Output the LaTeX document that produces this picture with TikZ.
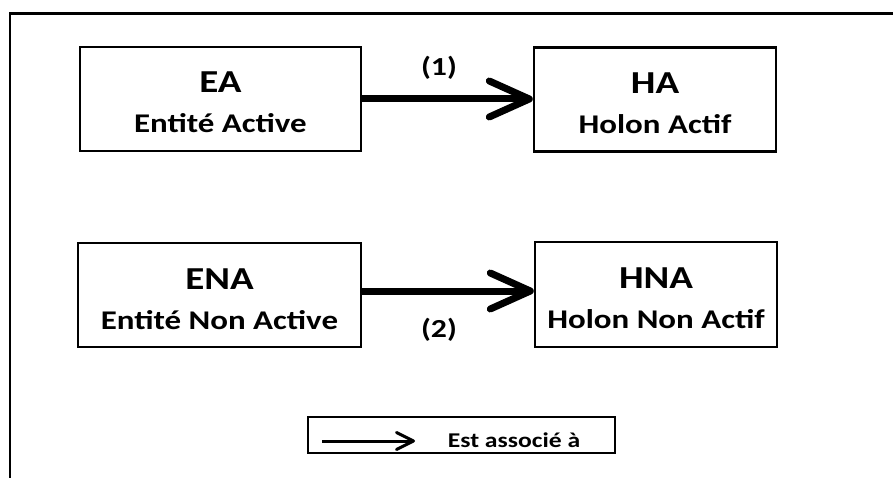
\documentclass[tikz,border=0pt]{standalone}
\usepackage{fontspec}
\setmainfont{Carlito}[FakeStretch=1.22]
\usetikzlibrary{arrows.meta}
\begin{document}
\begin{tikzpicture}[x=1pt,y=-1pt,
  frame/.style={line width=2.2pt},
  box/.style={draw, line width=2.4pt, minimum width=#1, minimum height=104pt, inner sep=0pt},
  ttl/.style={anchor=base, inner sep=0pt, font=\bfseries\fontsize{32}{34}\selectfont},
  sub/.style={anchor=base, inner sep=0pt, font=\bfseries\fontsize{27}{30}\selectfont},
  assoc/.style={line width=7pt, -{Straight Barb[length=40pt,width=36pt,round]}},
  legarrow/.style={line width=3pt, -{Straight Barb[length=17pt,width=17pt,round]}},
  lab/.style={font=\bfseries\fontsize{26}{30}\selectfont, inner sep=0pt},
  legbox/.style={draw, line width=1.8pt, minimum width=307pt, minimum height=36pt, inner sep=0pt},
]
\useasboundingbox (0,0) rectangle (893,478);
\draw[frame] (10,478) -- (10,13.5) -- (893,13.5);

\node[box=281pt] (EA) at (220.5,99) {};
\node[box=242pt] (HA) at (655,99.5) {};
\node[box=283pt] (ENA) at (219.5,295) {};
\node[box=242pt, minimum height=105pt] (HNA) at (656,294.5) {};

\node[ttl] (EAt) at ([yshift=6pt]EA.center) {EA};
\node[sub] (EAs) at ([yshift=-34pt]EA.center) {Entité Active};
\node[ttl] (HAt) at ([yshift=6pt]HA.center) {HA};
\node[sub] (HAs) at ([yshift=-34pt]HA.center) {Holon Actif};
\node[ttl] (ENAt) at ([yshift=6pt]ENA.center) {ENA};
\node[sub] (ENAs) at ([yshift=-34pt]ENA.center) {Entité Non Active};
\node[ttl] (HNAt) at ([yshift=6pt]HNA.center) {HNA};
\node[sub] (HNAs) at ([yshift=-34pt]HNA.center) {Holon Non Actif};

\draw[assoc] (EA.east |- 0,99) -- (HA.west |- 0,99);
\draw[assoc] (ENA.east |- 0,291) -- (HNA.west |- 0,291);

\node[lab] (l1) at (439,68) {(1)};
\node[lab] (l2) at (439,330) {(2)};

\node[legbox] (leg) at (461.5,435) {};
\coordinate (la) at (322,441);
\coordinate (lb) at (415,441);
\draw[legarrow] (la) -- (lb);
\node[font=\bfseries\fontsize{21}{24}\selectfont, inner sep=0pt] (legtext) at (514,440) {Est associé à};
\end{tikzpicture}
\end{document}
